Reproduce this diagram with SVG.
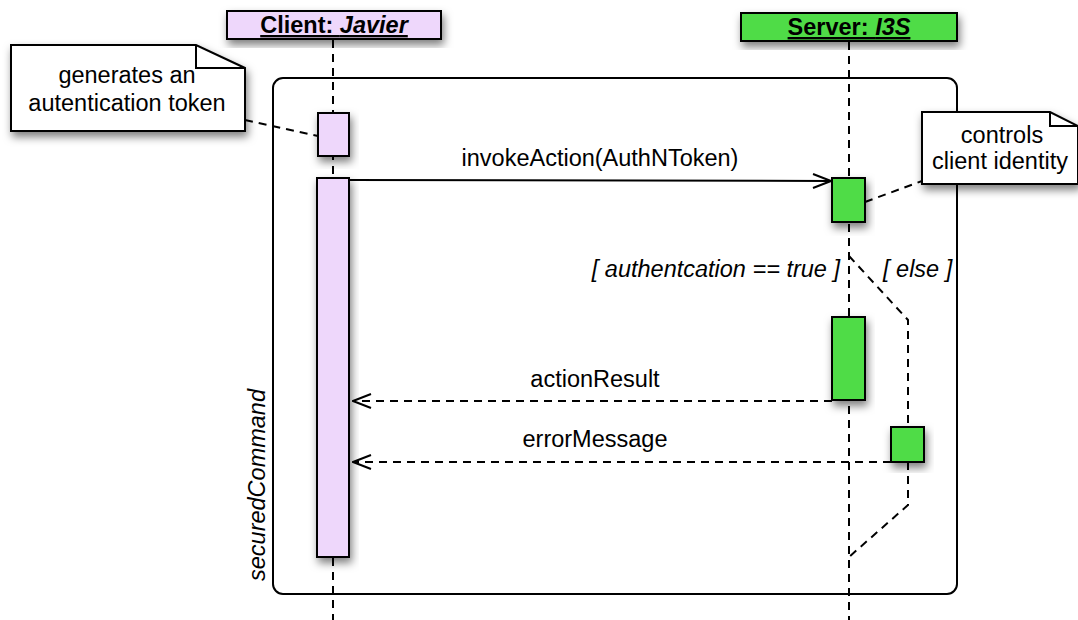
<svg xmlns="http://www.w3.org/2000/svg" width="1078" height="620" viewBox="0 0 1078 620">
  <defs>
    <filter id="shadow" x="-30%" y="-30%" width="160%" height="160%">
      <feDropShadow dx="2" dy="5" stdDeviation="4" flood-color="#000" flood-opacity="0.5"/>
    </filter>
    <marker id="open" viewBox="0 0 20 16" refX="19" refY="8" markerWidth="20" markerHeight="16" markerUnits="userSpaceOnUse" orient="auto">
      <path d="M1 1 L19 8 L1 15" fill="none" stroke="#000" stroke-width="2"/>
    </marker>
    <style>
      .txt { font-family: "Liberation Sans", Arial, sans-serif; font-size: 23.5px; fill: #000; }
      .head { font-family: "Liberation Sans", Arial, sans-serif; font-size: 23.5px; font-weight: bold; text-decoration: underline; }
      .it { font-style: italic; }
      .life { stroke: #000; stroke-width: 2; stroke-dasharray: 8 6; fill: none; }
      .dash { stroke: #000; stroke-width: 2; stroke-dasharray: 8 6; fill: none; }
      .solid { stroke: #000; stroke-width: 2; fill: none; }
      .client { fill: #eed7fb; stroke: #000; stroke-width: 2; }
      .server { fill: #50dc46; stroke: #000; stroke-width: 2; }
      .note { fill: #fff; stroke: #000; stroke-width: 2; }
    </style>
  </defs>

  <!-- combined fragment frame -->
  <g id="frame">
    <rect x="273" y="78" width="684" height="516" rx="10" ry="10" class="solid"/>
    <text class="txt it" transform="translate(265,485) rotate(-90)" text-anchor="middle">securedCommand</text>
  </g>

  <!-- lifelines -->
  <g id="lifelines">
    <line x1="333" y1="40" x2="333" y2="620" class="life"/>
    <line x1="849" y1="42" x2="849" y2="620" class="life"/>
  </g>

  <g id="client-head">
    <rect x="227" y="11" width="214" height="28" class="client" filter="url(#shadow)"/>
    <text x="334" y="33" class="head" text-anchor="middle">Client: <tspan class="it">Javier</tspan></text>
  </g>

  <g id="server-head">
    <rect x="741" y="13" width="216" height="28" class="server" filter="url(#shadow)"/>
    <text x="849" y="35" class="head" text-anchor="middle">Server: <tspan class="it">I3S</tspan></text>
  </g>

  <!-- connectors -->
  <g id="connectors">
    <line x1="245" y1="120" x2="318" y2="136" class="dash"/>
    <line x1="865" y1="202" x2="922" y2="181" class="dash"/>
    <line x1="349" y1="180" x2="831" y2="181" class="solid" marker-end="url(#open)"/>
    <line x1="832" y1="401" x2="353" y2="401" class="dash" marker-end="url(#open)"/>
    <line x1="891" y1="462" x2="353" y2="462" class="dash" marker-end="url(#open)"/>
    <!-- else branch -->
    <polyline points="849,256 908,320 908,427" class="dash"/>
    <polyline points="908,462 908,505 849,557" class="dash"/>
  </g>

  <g id="note-token">
    <path d="M11 45 H196 L245 68 V131 H11 Z" class="note" filter="url(#shadow)"/>
    <path d="M196 45 V68 H245" class="solid"/>
    <text x="127" y="83" class="txt" text-anchor="middle">generates an</text>
    <text x="127" y="111" class="txt" text-anchor="middle">autentication token</text>
  </g>

  <g id="note-identity">
    <path d="M922 112 H1050 L1078 126 V184 H922 Z" class="note" filter="url(#shadow)"/>
    <path d="M1050 112 V126 H1078" class="solid"/>
    <text x="1002" y="143" class="txt" text-anchor="middle">controls</text>
    <text x="1000" y="169" class="txt" text-anchor="middle">client identity</text>
  </g>

  <g id="client-act-1">
    <rect x="318" y="113" width="31" height="43" class="client" filter="url(#shadow)"/>
  </g>
  <g id="client-act-2">
    <rect x="317" y="178" width="32" height="379" class="client" filter="url(#shadow)"/>
  </g>
  <g id="server-act-1">
    <rect x="832" y="178" width="33" height="44" class="server" filter="url(#shadow)"/>
  </g>
  <g id="server-act-2">
    <rect x="832" y="317" width="33" height="83" class="server" filter="url(#shadow)"/>
  </g>
  <g id="server-act-3">
    <rect x="891" y="427" width="33" height="35" class="server" filter="url(#shadow)"/>
  </g>

  <!-- labels -->
  <g id="labels">
    <text x="600" y="166" class="txt" text-anchor="middle">invokeAction(AuthNToken)</text>
    <text x="840" y="277" class="txt it" text-anchor="end">[ authentcation == true ]</text>
    <text x="883" y="277" class="txt it">[ else ]</text>
    <text x="595" y="387" class="txt" text-anchor="middle">actionResult</text>
    <text x="595" y="447" class="txt" text-anchor="middle">errorMessage</text>
  </g>
</svg>
